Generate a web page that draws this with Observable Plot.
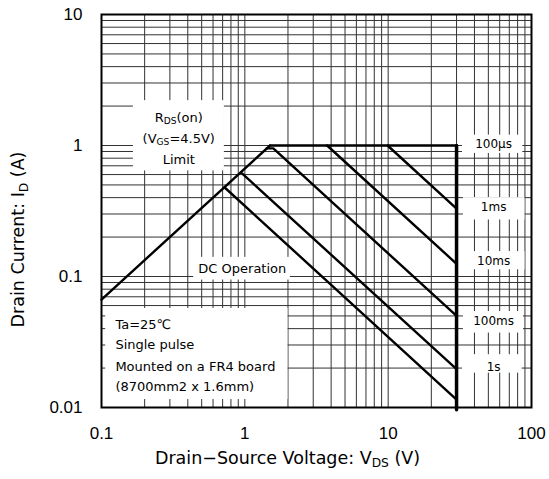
<!DOCTYPE html>
<html>
<head>
<meta charset="utf-8">
<script src="https://cdn.jsdelivr.net/npm/d3@7"></script>
<script src="https://cdn.jsdelivr.net/npm/@observablehq/plot@0.6"></script>
<style>
  html, body { margin: 0; padding: 0; background: #fff; }
  #chart { position: absolute; left: 0; top: 0; }
</style>
</head>
<body>
<div id="chart"></div>
<script>
// ---- axis ticks ----
const xTicks = [0.1, 1, 10, 100];
const xTickLabels = ["0.1", "1", "10", "100"];
const yTicks = [0.01, 0.1, 1, 10];
const yTickLabels = ["0.01", "0.1", "1", "10"];
const gridMultipliers = [1, 2, 3, 4, 5, 6, 7, 8, 9];
const xDecades = [0.1, 1, 10];
const yDecades = [0.01, 0.1, 1];

// ---- SOA boundaries (VDS in V, ID in A) ----
const rdsV = [0.1, 1.5];          const rdsI = [0.0667, 1];      // RDS(on) limit
const vdssV = [30, 30];           const vdssI = [1, 0.0096];     // VDSS limit
const p100usV = [1.5, 30];        const p100usI = [1, 1];
const p1msV = [9.9, 30];          const p1msI = [1, 0.33];
const p10msV = [3.75, 30];        const p10msI = [1, 0.125];
const p100msV = [1.42, 1.58, 30]; const p100msI = [0.95, 0.95, 0.05];
const p1sV = [0.96, 30];          const p1sI = [0.61, 0.0196];
const dcV = [0.72, 30];           const dcI = [0.48, 0.0115];

const pulseLabels = ["100μs", "1ms", "10ms", "100ms", "1s"];
const pulseLabelI = [1.02, 0.34, 0.13, 0.046, 0.0205];
const rdsLabelLines = ["R_{DS}(on)", "(V_{GS}=4.5V)", "Limit"];
const condLines = ["Ta=25℃", "Single pulse", "Mounted on a FR4 board", "(8700mm2 x 1.6mm)"];

// ---- derived ----
const pts = (V, I) => V.map((v, k) => ({v, i: I[k]}));
const xGrid = xDecades.flatMap(d => gridMultipliers.map(m => +(d * m).toPrecision(3))).concat([100]);
const yGrid = yDecades.flatMap(d => gridMultipliers.map(m => +(d * m).toPrecision(3))).concat([10]);

const annoFont = "'DejaVu Sans', sans-serif";

// white label backgrounds (in data coordinates)
const boxes = [
  {x1: 0.167, x2: 0.72, y1: 0.64, y2: 2.2},
  {x1: 0.44, x2: 2.08, y1: 0.094, y2: 0.14},
  {x1: 0.107, x2: 2.0, y1: 0.0115, y2: 0.057},
  {x1: 33, x2: 87, y1: 0.87, y2: 1.2},
  {x1: 33.5, x2: 90, y1: 0.27, y2: 0.40},
  {x1: 34, x2: 90, y1: 0.1125, y2: 0.155},
  {x1: 33.5, x2: 88, y1: 0.037, y2: 0.054},
  {x1: 33, x2: 86, y1: 0.0183, y2: 0.0253}
];

const lineStyle = {x: "v", y: "i", stroke: "black", strokeWidth: 2.4, strokeLinejoin: "miter"};

const chart = Plot.plot({
  width: 549,
  height: 479,
  marginLeft: 101,
  marginRight: 18,
  marginTop: 14,
  marginBottom: 72,
  style: {fontFamily: "'Liberation Sans', Arial, sans-serif", fontSize: "17px", background: "white", color: "black"},
  x: {type: "log", domain: [0.1, 100], ticks: xTicks, tickFormat: d => xTickLabels[xTicks.indexOf(d)], tickSize: 0, tickPadding: 19, label: null},
  y: {type: "log", domain: [0.01, 10], ticks: yTicks, tickFormat: d => yTickLabels[yTicks.indexOf(d)], tickSize: 0, tickPadding: 19, label: null},
  marks: [
    Plot.ruleX(xGrid, {stroke: "#333", strokeWidth: 1}),
    Plot.ruleY(yGrid, {stroke: "#333", strokeWidth: 1}),
    Plot.rect(boxes, {x1: "x1", x2: "x2", y1: "y1", y2: "y2", fill: "white"}),
    Plot.line(pts(rdsV, rdsI), lineStyle),
    Plot.line(pts(p100usV, p100usI), lineStyle),
    Plot.line(pts(p1msV, p1msI), lineStyle),
    Plot.line(pts(p10msV, p10msI), lineStyle),
    Plot.line(pts(p100msV, p100msI), lineStyle),
    Plot.line(pts(p1sV, p1sI), lineStyle),
    Plot.line(pts(dcV, dcI), lineStyle),
    Plot.line(pts(vdssV, vdssI), {...lineStyle, strokeWidth: 3.5}),
    Plot.frame({stroke: "black", strokeWidth: 2}),
    // right-hand pulse labels
    Plot.text(pulseLabels, {x: () => 54.4, y: (d, k) => pulseLabelI[k], text: d => d, fontFamily: annoFont, fontSize: 12, textAnchor: "middle"}),
    // RDS(on) limit label
    Plot.text(rdsLabelLines, {x: () => 0.346, y: (d, k) => [1.64, 1.13, 0.78][k], text: d => d, fontFamily: annoFont, fontSize: 13, textAnchor: "middle"}),
    Plot.text(["DC Operation"], {x: () => 0.96, y: () => 0.114, text: d => d, fontFamily: annoFont, fontSize: 13, textAnchor: "middle"}),
    Plot.text(condLines, {x: () => 0.125, y: (d, k) => [0.0428, 0.0302, 0.0204, 0.0145][k], text: d => d, fontFamily: annoFont, fontSize: 13, textAnchor: "start"}),
    // axis titles
    Plot.text(["Drain−Source Voltage: V_{DS} (V)"], {frameAnchor: "bottom", dx: -29, dy: 56, text: d => d, fontFamily: annoFont, fontSize: 17.5, textAnchor: "middle"}),
    Plot.text(["Drain Current: I_{D} (A)"], {frameAnchor: "left", rotate: -90, dx: -83, dy: 28.5, text: d => d, fontFamily: annoFont, fontSize: 17.5, textAnchor: "middle"})
  ]
});

// convert _{..} markers into real subscripts
chart.querySelectorAll("text").forEach(t => {
  const s = t.textContent;
  if (!s.includes("_{")) return;
  const parts = s.split(/(_\{[^}]*\})/).filter(p => p.length);
  while (t.firstChild) t.removeChild(t.firstChild);
  let lowered = false;
  const ns = "http://www.w3.org/2000/svg";
  parts.forEach(p => {
    const ts = document.createElementNS(ns, "tspan");
    if (p.startsWith("_{")) {
      ts.textContent = p.slice(2, -1);
      ts.setAttribute("font-size", "70%");
      ts.setAttribute("dy", "0.3em");
      lowered = true;
    } else {
      ts.textContent = p;
      if (lowered) { ts.setAttribute("dy", "-0.21em"); lowered = false; }
    }
    t.appendChild(ts);
  });
});

document.getElementById("chart").appendChild(chart);
</script>
</body>
</html>
